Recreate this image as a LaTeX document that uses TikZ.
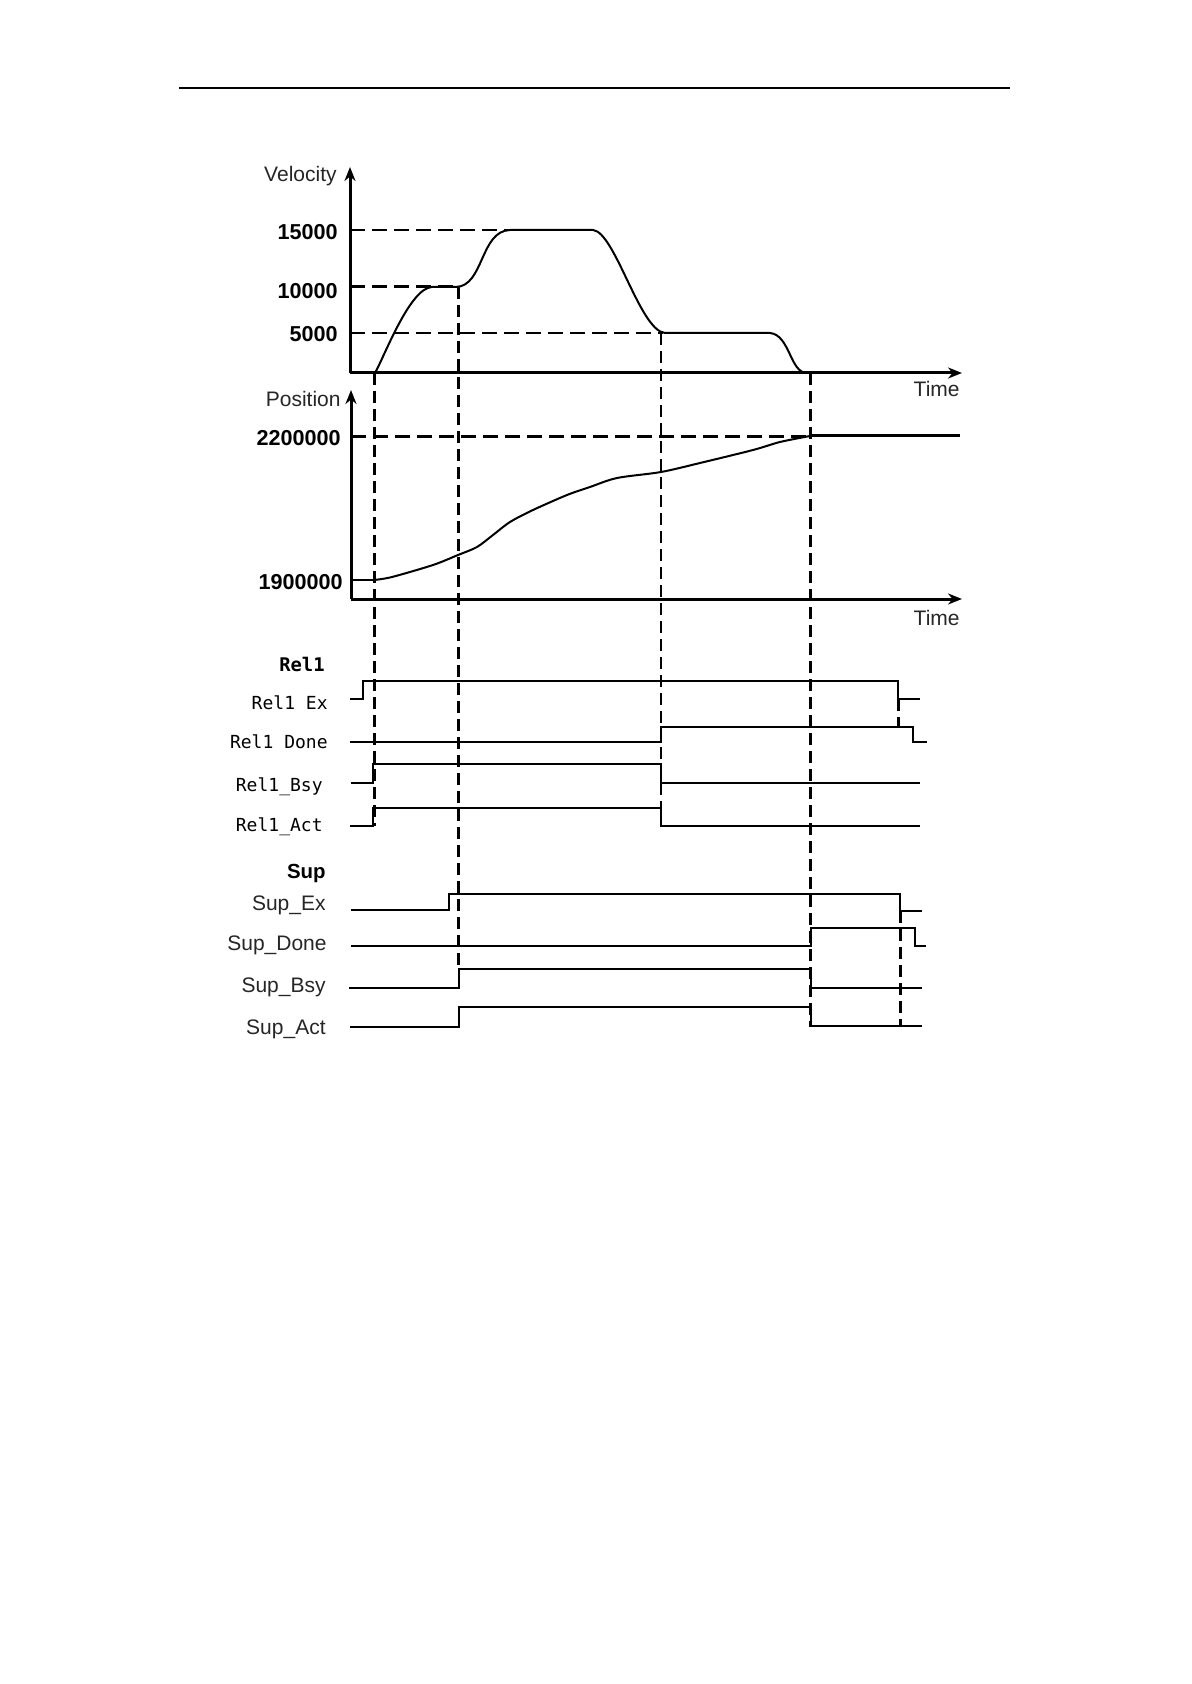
\documentclass[tikz,border=0pt]{standalone}
\usepackage{fontspec}
\setmainfont{Liberation Sans}
\newfontfamily\monof{DejaVu Sans Mono}
\usetikzlibrary{arrows.meta}
\begin{document}
\begin{tikzpicture}[x=0.5pt,y=-0.5pt,
  axis/.style={line width=1.5pt,-{Stealth[length=7pt,width=5.5pt]}},
  sig/.style={line width=1pt},
  thinsig/.style={line width=0.8pt},
  vdash/.style={line width=1.5pt,dash pattern=on 6pt off 3pt},
  tdash/.style={line width=0.9pt,dash pattern=on 6pt off 3pt},
  hdash/.style={line width=1pt,dash pattern=on 7.5pt off 3.5pt},
  hdashb/.style={line width=1.5pt,dash pattern=on 7.5pt off 3.5pt},
  lab/.style={anchor=base east,inner sep=0pt,text=black!85,font=\fontsize{10.5}{12}\selectfont},
  num/.style={anchor=base east,inner sep=0pt,font=\fontsize{10.8}{12}\selectfont\bfseries},
  mlab/.style={anchor=base east,inner sep=0pt,font=\fontsize{9}{11}\selectfont\monof},
]
\fill[white] (0,0) rectangle (1191,1684);
\useasboundingbox (0,0) rectangle (1191,1684);

% top rule
\coordinate (r1) at (179,88);
\coordinate (r2) at (1010,88);
\draw[line width=0.7pt] (r1) -- (r2);

% ---------- velocity panel
\coordinate (vo) at (350,373);
\coordinate (vtop) at (350,167);
\coordinate (vend) at (962,373);
\draw[axis] (vo) -- (vtop);
\draw[axis] (vo) -- (vend);
\node[lab] (vel) at (337,182) {Velocity};
\node[lab] (t1) at (960,397) {Time};
\node[num] (n15) at (338,240) {15000};
\node[num] (n10) at (338,299) {10000};
\node[num] (n5) at (338,342) {5000};

\draw[hdash] (350,230) -- (508,230);
\draw[hdashb] (350,287) -- (460,287);
\draw[hdash] (350,333) -- (663,333);

\draw[sig] (375,373) .. controls (385,355) and (410,288) .. (432,287)
  -- (456,287) .. controls (484,286) and (480,231) .. (510,230)
  -- (593,230) .. controls (615,232) and (640,331) .. (665,333)
  -- (770,333) .. controls (790,335) and (790,373) .. (807,373);

% ---------- position panel
\coordinate (po) at (351,599);
\coordinate (ptop) at (351,390);
\coordinate (pend) at (962,599);
\draw[axis] (po) -- (ptop);
\draw[axis] (po) -- (pend);
\node[lab] (pos) at (341,407) {Position};
\node[lab] (t2) at (960,625) {Time};
\node[num] (n22) at (341,445) {2200000};
\node[num] (n19) at (343,589) {1900000};

\draw[hdashb] (351,437) -- (810,437);
\draw[sig] (351,580) -- (374,580);
\draw[sig] plot[smooth,tension=0.5] coordinates {(374,580) (392,577) (433,565) (458,555) (477,547) (493,535) (510,522) (533,510) (567,495) (590,487) (617,478) (661,472) (700,463) (753,450) (780,442) (810,436)};
\draw[line width=1.5pt] (810,436) -- (960,436);

% ---------- Rel1 signals
\node[mlab,font=\fontsize{9.4}{11}\selectfont\monof\bfseries] (rel) at (325,671) {Rel1};
\node[mlab] (rex) at (328,709) {Rel1 Ex};
\node[mlab] (rdn) at (328,748) {Rel1 Done};
\node[mlab] (rbs) at (323,791) {Rel1\_Bsy};
\node[mlab] (rac) at (323,831) {Rel1\_Act};

\draw[sig] (350,699) -- (363,699) -- (363,681) -- (898,681) -- (898,699) -- (920,699);
\draw[sig] (350,742) -- (661,742) -- (661,727) -- (913,727) -- (913,742) -- (927,742);
\draw[thinsig] (351,783) -- (373,783) -- (373,764) -- (661,764) -- (661,783) -- (920,783);
\draw[sig] (350,826) -- (373,826) -- (373,808) -- (661,808) -- (661,826) -- (920,826);

% ---------- Sup signals
\node[lab,text=black,font=\fontsize{10.2}{12}\selectfont\bfseries] (sup) at (326,878) {Sup};
\node[lab] (sex) at (326,910) {Sup\_Ex};
\node[lab] (sdn) at (327,950) {Sup\_Done};
\node[lab] (sbs) at (326,992) {Sup\_Bsy};
\node[lab] (sac) at (326,1034) {Sup\_Act};

\draw[sig] (351,910) -- (449,910) -- (449,894) -- (900,894) -- (900,911) -- (922,911);
\draw[sig] (351,946) -- (811,946) -- (811,928) -- (915,928) -- (915,946) -- (926,946);
\draw[thinsig] (349,988) -- (459,988) -- (459,969) -- (811,969) -- (811,988) -- (922,988);
\draw[sig] (350,1027) -- (459,1027) -- (459,1007) -- (811,1007) -- (811,1026) -- (922,1026);

% ---------- vertical dashed lines
\draw[vdash] (374,373) -- (374,826);
\draw[vdash] (458,287) -- (458,969);
\draw[tdash] (661,333) -- (661,826);
\draw[vdash] (810,373) -- (810,1027);
\draw[vdash] (898,699) -- (898,727);
\draw[vdash] (900,911) -- (900,1027);
\end{tikzpicture}
\end{document}
